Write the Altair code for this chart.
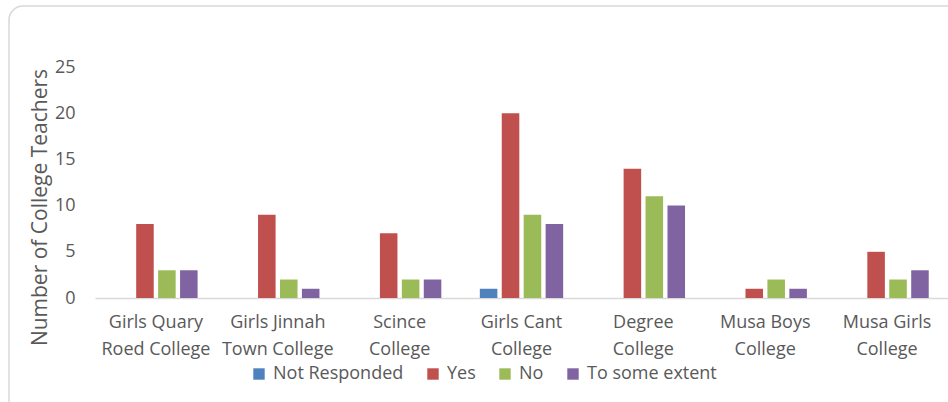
import altair as alt
import pandas as pd

# Survey responses of college teachers, per college
colleges = [
    "Girls Quary|Roed College",
    "Girls Jinnah|Town College",
    "Scince|College",
    "Girls Cant|College",
    "Degree|College",
    "Musa Boys|College",
    "Musa Girls|College",
]
responses = ["Not Responded", "Yes", "No", "To some extent"]
not_responded = [0, 0, 0, 1, 0, 0, 0]
yes = [8, 9, 7, 20, 14, 1, 5]
no = [3, 2, 2, 9, 11, 2, 2]
some_extent = [3, 1, 2, 8, 10, 1, 3]
colors = ["#4F81BD", "#C0504D", "#9BBB59", "#8064A2"]

rows = []
for series, vals in zip(responses, [not_responded, yes, no, some_extent]):
    for college, v in zip(colleges, vals):
        rows.append({"College": college, "Response": series, "Teachers": v})
df = pd.DataFrame(rows)

W, H = 853, 231
PAD_L, PAD_T = 95, 67
FONT = "Open Sans"
GREY = "#595959"
FS = 18

# rounded frame drawn around the whole chart area
frame = alt.Chart(alt.Data(values=[{}])).mark_rect(
    fillOpacity=0, stroke="#d9d9d9", strokeWidth=1.5, cornerRadius=14, clip=False
).encode(
    x=alt.value(-PAD_L + 9),
    x2=alt.value(W + 20),
    y=alt.value(-PAD_T + 6),
    y2=alt.value(402 - PAD_T + 20),
)

bars = alt.Chart(df).mark_bar().encode(
    x=alt.X(
        "College:N",
        sort=colleges,
        scale=alt.Scale(paddingInner=0.28, paddingOuter=0.14),
        axis=alt.Axis(
            title=None,
            labelAngle=0,
            labelExpr="split(datum.label, '|')",
            labelFont=FONT,
            labelFontSize=FS,
            labelColor=GREY,
            labelLineHeight=27,
            labelBaseline="top",
            labelPadding=15,
            ticks=False,
            domainColor="#d9d9d9",
            domainWidth=1.5,
            grid=False,
        ),
    ),
    xOffset=alt.XOffset(
        "Response:N", sort=responses,
        scale=alt.Scale(paddingInner=0.2, paddingOuter=0.1),
    ),
    y=alt.Y(
        "Teachers:Q",
        scale=alt.Scale(domain=[0, 25], nice=False),
        axis=alt.Axis(
            title="Number  of College Teachers",
            values=[0, 5, 10, 15, 20, 25],
            labelFont=FONT,
            labelFontSize=FS,
            labelColor=GREY,
            labelPadding=20,
            ticks=False,
            domain=False,
            grid=False,
            titleFont=FONT,
            titleFontSize=21,
            titleFontWeight="normal",
            titleColor=GREY,
            titleAngle=-90,
            titleAlign="center",
            titleBaseline="middle",
            titleX=-55,
            titleY=140,
        ),
    ),
    color=alt.Color(
        "Response:N",
        sort=responses,
        scale=alt.Scale(domain=responses, range=colors),
        legend=alt.Legend(
            title=None,
            orient="none",
            legendX=155,
            legendY=298,
            direction="horizontal",
            columns=4,
            symbolType="square",
            symbolSize=130,
            symbolStrokeWidth=0,
            labelFont=FONT,
            labelFontSize=FS,
            labelColor=GREY,
            labelOffset=5,
            columnPadding=20,
        ),
    ),
)

chart = alt.layer(frame, bars).properties(
    width=W,
    height=H,
    autosize="none",
    padding={"left": PAD_L, "top": PAD_T, "right": 0, "bottom": 402 - PAD_T - H},
    background="white",
).configure_view(stroke=None)

chart.save("out.html", embed_options={"renderer": "svg", "actions": False})
